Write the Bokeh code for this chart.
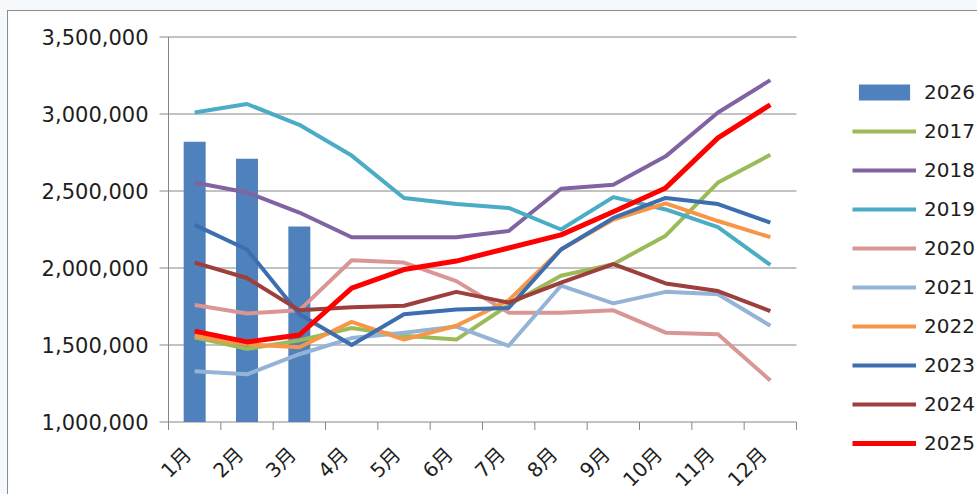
import numpy as np
from bokeh.plotting import figure
from bokeh.models import Range1d, Legend, LegendItem
from bokeh.core.properties import value
from bokeh.layouts import column
from bokeh.embed import file_html
from bokeh.resources import INLINE

# Monthly volumes, one list per year
months = ["1月", "2月", "3月", "4月", "5月", "6月", "7月", "8月", "9月", "10月", "11月", "12月"]
y2026 = [2820000, 2710000, 2270000]
y2017 = [1550000, 1475000, 1530000, 1610000, 1560000, 1535000, 1760000, 1950000, 2025000, 2210000, 2555000, 2735000]
y2018 = [2555000, 2490000, 2360000, 2200000, 2200000, 2200000, 2240000, 2515000, 2540000, 2725000, 3010000, 3220000]
y2019 = [3010000, 3065000, 2930000, 2730000, 2455000, 2415000, 2390000, 2250000, 2460000, 2380000, 2265000, 2020000]
y2020 = [1760000, 1705000, 1725000, 2050000, 2035000, 1915000, 1710000, 1710000, 1725000, 1580000, 1570000, 1270000]
y2021 = [1330000, 1310000, 1440000, 1545000, 1580000, 1620000, 1495000, 1885000, 1770000, 1845000, 1830000, 1625000]
y2022 = [1560000, 1505000, 1485000, 1650000, 1535000, 1625000, 1790000, 2120000, 2315000, 2420000, 2305000, 2200000]
y2023 = [2280000, 2120000, 1700000, 1500000, 1700000, 1730000, 1740000, 2120000, 2325000, 2455000, 2415000, 2295000]
y2024 = [2035000, 1935000, 1725000, 1745000, 1755000, 1845000, 1775000, 1905000, 2025000, 1900000, 1850000, 1720000]
y2025 = [1590000, 1520000, 1565000, 1870000, 1990000, 2045000, 2130000, 2215000, 2365000, 2520000, 2845000, 3060000]
y_ticks = [1000000, 1500000, 2000000, 2500000, 3000000, 3500000]
y_labels = [f"{v:,}" for v in y_ticks]

line_series = [
    ("2017", y2017, "#9BBB59", 4),
    ("2018", y2018, "#8064A2", 4),
    ("2019", y2019, "#4BACC6", 4),
    ("2020", y2020, "#D99694", 4),
    ("2021", y2021, "#95B3D7", 4),
    ("2022", y2022, "#F79646", 4),
    ("2023", y2023, "#3C6EB0", 4),
    ("2024", y2024, "#9C3F3D", 4),
    ("2025", y2025, "#FF0000", 5),
]
BAR_COLOR = "#4F81BD"

FONT = "DejaVu Sans, Noto Sans CJK SC"
GRAY = "#868686"
TEXT = "#1e1e1e"

# ---- geometry (pixels) ---------------------------------------------------
FIG_W, FIG_H = 970, 484
PLOT_X0, PLOT_Y0 = 160, 25.5   # top-left of the plotted area inside the figure
PLOT_W, PLOT_H = 628, 385

n = len(months)
xc = np.arange(n) + 0.5        # category centres on a 0..n axis
y_lo, y_hi = y_ticks[0], y_ticks[-1]
ux = n / PLOT_W                # x units per pixel
uy = (y_hi - y_lo) / PLOT_H    # y units per pixel

# The frame covers the whole figure so that the axis texts and the legend
# are never clipped; both axes are drawn with glyphs.
p = figure(width=FIG_W, height=FIG_H, output_backend="svg", toolbar_location=None,
           x_range=Range1d(-PLOT_X0 * ux, (FIG_W - PLOT_X0) * ux),
           y_range=Range1d(y_lo - (FIG_H - PLOT_Y0 - PLOT_H) * uy,
                           y_hi + PLOT_Y0 * uy),
           min_border=0, x_axis_type=None, y_axis_type=None)
p.outline_line_color = None
p.background_fill_color = "white"
p.border_fill_color = "white"
p.grid.visible = False

# horizontal gridlines (the lowest one doubles as the month axis line)
p.segment(x0=0, x1=n, y0=y_ticks, y1=y_ticks, line_color=GRAY, line_width=1)

# value axis: line, outward ticks, labels
p.segment(x0=0, x1=0, y0=y_lo, y1=y_hi, line_color=GRAY, line_width=1)
p.segment(x0=0, x1=-9 * ux, y0=y_ticks, y1=y_ticks, line_color=GRAY, line_width=1)
p.text(x=[0] * len(y_ticks), y=y_ticks, text=y_labels, x_offset=-20,
       text_align="right", text_baseline="middle",
       text_font=value(FONT), text_font_size="21px", text_color=TEXT)

# month axis: tick marks at category boundaries, rotated labels
bounds = list(range(n + 1))
p.segment(x0=bounds, x1=bounds, y0=y_lo, y1=y_lo - 8 * uy,
          line_color=GRAY, line_width=1)
p.text(x=xc, y=[y_lo] * n, text=months, angle=np.pi / 4,
       text_align="right", text_baseline="middle",
       x_offset=-7, y_offset=29,
       text_font=value(FONT), text_font_size="20px", text_color=TEXT)

bars = p.vbar(x=xc[:len(y2026)], top=y2026, bottom=y_lo, width=0.42,
              fill_color=BAR_COLOR, line_color=None)
items = [LegendItem(label="2026", renderers=[bars])]
for name, vals, color, lw in line_series:
    r = p.line(xc, vals, line_color=color, line_width=lw, line_join="round")
    items.append(LegendItem(label=name, renderers=[r]))

# legend to the right of the plotted area; tuple is its lower-left corner
legend = Legend(items=items, location=(844, 40), orientation="vertical",
                glyph_width=64, glyph_height=20, label_height=24, spacing=15,
                label_standoff=8, padding=0, margin=0,
                label_text_font=FONT, label_text_font_size="20px",
                label_text_color=TEXT, border_line_color=None,
                background_fill_alpha=0)
p.add_layout(legend)

p.styles = {"border-left": "1px solid #8c8c8c", "border-top": "1px solid #8c8c8c"}
root = column(p, styles={"padding-left": "7px", "padding-top": "10px",
                         "background-color": "#f6f9fc"})

with open("out.html", "w") as f:
    f.write(file_html(root, INLINE))
